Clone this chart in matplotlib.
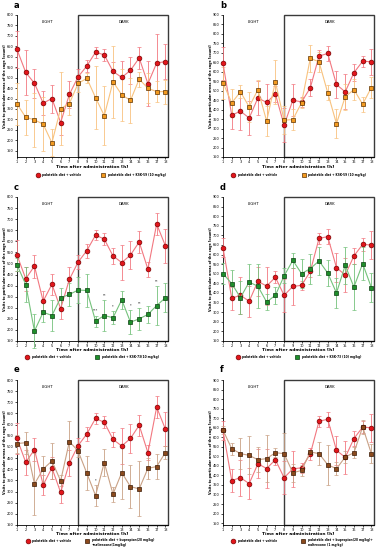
import numpy as np
import matplotlib
matplotlib.use("Agg")
import matplotlib.pyplot as plt
from matplotlib.patches import Rectangle
from matplotlib.lines import Line2D

hours = list(range(1, 19))

# panel a
a_vehicle = [635, 525, 473, 378, 400, 285, 420, 504, 556, 622, 609, 530, 501, 535, 594, 471, 570, 577]
a_vehicle_err = [90, 108, 70, 57, 67, 59, 64, 38, 30, 26, 28, 45, 78, 65, 52, 109, 140, 85]
a_ksk59 = [374, 310, 298, 277, 188, 352, 376, 472, 497, 404, 318, 480, 418, 391, 493, 449, 433, 433]
a_ksk59_err = [100, 85, 130, 130, 65, 175, 55, 42, 24, 150, 140, 173, 125, 108, 36, 72, 49, 57]

# panel b
b_vehicle = [644, 371, 392, 356, 462, 438, 483, 318, 450, 441, 515, 683, 697, 533, 494, 595, 656, 653]
b_vehicle_err = [88, 72, 100, 90, 90, 100, 42, 90, 84, 25, 45, 32, 41, 70, 92, 45, 30, 69]
b_ksk59 = [542, 436, 494, 415, 506, 340, 547, 344, 348, 436, 671, 653, 489, 326, 468, 506, 429, 517]
b_ksk59_err = [85, 75, 35, 80, 50, 80, 115, 75, 57, 25, 70, 53, 40, 75, 70, 57, 40, 53]

# vehicle shared by c and e
ce_vehicle = [538, 431, 488, 330, 406, 296, 428, 506, 558, 628, 610, 534, 504, 538, 597, 474, 678, 580]
ce_vehicle_err = [70, 55, 52, 44, 48, 48, 58, 33, 32, 24, 27, 35, 80, 65, 48, 34, 50, 77]

# vehicle shared by d and f
df_vehicle = [636, 373, 388, 357, 461, 436, 482, 388, 434, 440, 512, 684, 694, 532, 494, 593, 653, 650]
df_vehicle_err = [50, 60, 95, 80, 75, 100, 30, 85, 95, 25, 30, 28, 40, 76, 88, 41, 32, 73]

c_ksk73 = [494, 405, 195, 280, 265, 345, 360, 380, 378, 240, 265, 255, 336, 235, 250, 270, 310, 345]
c_ksk73_err = [30, 80, 78, 45, 70, 45, 50, 60, 75, 25, 70, 30, 40, 55, 50, 40, 90, 65]
c_stars = {10: "***", 11: "**", 12: "*", 14: "*", 15: "**", 17: "**"}

d_ksk73 = [501, 449, 376, 457, 435, 353, 388, 489, 570, 501, 527, 567, 504, 400, 544, 431, 553, 428]
d_ksk73_err = [55, 70, 85, 95, 115, 42, 43, 39, 40, 74, 78, 74, 70, 80, 95, 120, 87, 75]

e_bup_nal = [515, 519, 334, 401, 437, 348, 524, 482, 382, 282, 430, 288, 385, 322, 312, 404, 412, 475]
e_bup_nal_err = [40, 50, 140, 60, 80, 25, 90, 28, 76, 48, 60, 33, 120, 97, 123, 48, 56, 27]
e_stars = {10: "*"}

f_bup_nal = [637, 540, 514, 505, 482, 488, 519, 514, 414, 426, 523, 514, 456, 435, 496, 519, 654, 514]
f_bup_nal_err = [20, 32, 80, 100, 65, 125, 22, 110, 48, 27, 12, 60, 105, 35, 33, 28, 38, 50]

vehicle_label = "palatable diet + vehicle"

RED = dict(marker="o", mfc="#e3151b", mec="#7a0000", line="#f27780")
ORANGE = dict(marker="s", mfc="#f39a1f", mec="#5a3000", line="#f8c27e")
GREEN = dict(marker="s", mfc="#1e8f2a", mec="#0b3d10", line="#74c27b")
BROWN = dict(marker="s", mfc="#8b4a1c", mec="#3a1a05", line="#c9a185")

W, H = 379, 550
fig = plt.figure(figsize=(W / 100, H / 100), dpi=100)


def px(x, y):
    return x / W, 1 - y / H


def series(ax, y, err, st):
    ax.errorbar(hours, y, yerr=err, color=st["line"], lw=0.8, elinewidth=0.6,
                capsize=1.6, capthick=0.6, marker=st["marker"], ms=3.4,
                mfc=st["mfc"], mec=st["mec"], mew=0.5, zorder=3, clip_on=False)


def panel(left, top, bottom, letter, ylim, vehicle, vehicle_err, drug, drug_err,
          st, drug_label, leg_x, leg_y, xlab_y, stars=None):
    x0, y1 = px(left, top)
    _, y0 = px(left, bottom)
    ax = fig.add_axes([x0, y0, 151 / W, y1 - y0])
    series(ax, vehicle, vehicle_err, RED)
    series(ax, drug, drug_err, st)
    if stars:
        for h, s in stars.items():
            i = h - 1
            ax.text(h, drug[i] + drug_err[i] + 12, s, fontsize=2.5, ha="center", va="bottom")
    xmax = 18.3
    ax.set_xlim(1, xmax)
    ax.set_ylim(*ylim)
    ax.add_patch(Rectangle((8, ylim[0]), xmax - 8, ylim[1] - ylim[0], fill=False,
                           ec="#3a3a3a", lw=1.0, clip_on=False, zorder=2))
    ax.set_xticks(hours)
    ax.set_yticks(np.arange(150, ylim[1] + 1, 50))
    ax.tick_params(labelsize=2.5, length=1.5, width=0.5, pad=0.8)
    for s in ["top", "right"]:
        ax.spines[s].set_visible(False)
    for s in ["left", "bottom"]:
        ax.spines[s].set_linewidth(0.6)
    ytxt = ylim[1] - (ylim[1] - ylim[0]) * 0.05
    ax.text(4.5, ytxt, "LIGHT", fontsize=2.8, ha="center", va="center")
    ax.text(13.2, ytxt, "DARK", fontsize=2.8, ha="center", va="center")

    fig.text(*px(left - 12, (top + bottom) / 2), "Visits to particular areas of the cage [count]",
             fontsize=2.4, fontweight="bold", rotation=90, ha="center", va="center")
    fig.text(*px(left + 75, xlab_y), "Time after administration [h]", fontsize=3.2,
             fontweight="bold", ha="center", va="center")
    fig.text(*px(left - 3, top - 10), letter, fontsize=6, fontweight="bold",
             ha="left", va="center")
    # legend under the axes
    for mx, st_, lab in [(leg_x[0], RED, vehicle_label), (leg_x[1], st, drug_label)]:
        fx, fy = px(mx, leg_y)
        fig.add_artist(Line2D([fx], [fy], transform=fig.transFigure, marker=st_["marker"],
                              ms=3.4, mfc=st_["mfc"], mec=st_["mec"], mew=0.5, ls="none"))
        if "\n" in lab:
            tx, ty = px(mx + 4.5, leg_y - 2.5)
            va = "top"
        else:
            tx, ty = px(mx + 4.5, leg_y)
            va = "center"
        fig.text(tx, ty, lab, fontsize=2.1, fontweight="bold", ha="left", va=va,
                 linespacing=1.1)
    return ax


panel(17, 15, 157, "a", (120, 800), a_vehicle, a_vehicle_err, a_ksk59, a_ksk59_err,
      ORANGE, "palatable diet + KSK-59 (10 mg/kg)", (38, 103), 175, 167)
panel(223, 15, 157, "b", (150, 900), b_vehicle, b_vehicle_err, b_ksk59, b_ksk59_err,
      ORANGE, "palatable diet + KSK-59 (10 mg/kg)", (233, 304), 175, 167)
panel(17, 197, 341, "c", (150, 800), ce_vehicle, ce_vehicle_err, c_ksk73, c_ksk73_err,
      GREEN, "palatable diet + KSK-73(10 mg/kg)", (27, 97), 357, 350, c_stars)
panel(223, 197, 341, "d", (150, 900), df_vehicle, df_vehicle_err, d_ksk73, d_ksk73_err,
      GREEN, "palatable diet + KSK-73 (10) mg/kg)", (238, 297), 357, 350)
panel(17, 380, 525, "e", (150, 800), ce_vehicle, ce_vehicle_err, e_bup_nal, e_bup_nal_err,
      BROWN, "palatable diet + bupropion(20 mg/kg)\n+naltrexone(1mg/kg)", (28, 87), 541, 534, e_stars)
panel(223, 380, 525, "f", (140, 900), df_vehicle, df_vehicle_err, f_bup_nal, f_bup_nal_err,
      BROWN, "palatable diet + bupropion(20 mg/kg)+\nnaltrexone (1 mg/kg)", (233, 303), 541, 534)

fig.savefig("out.png", dpi=100)
